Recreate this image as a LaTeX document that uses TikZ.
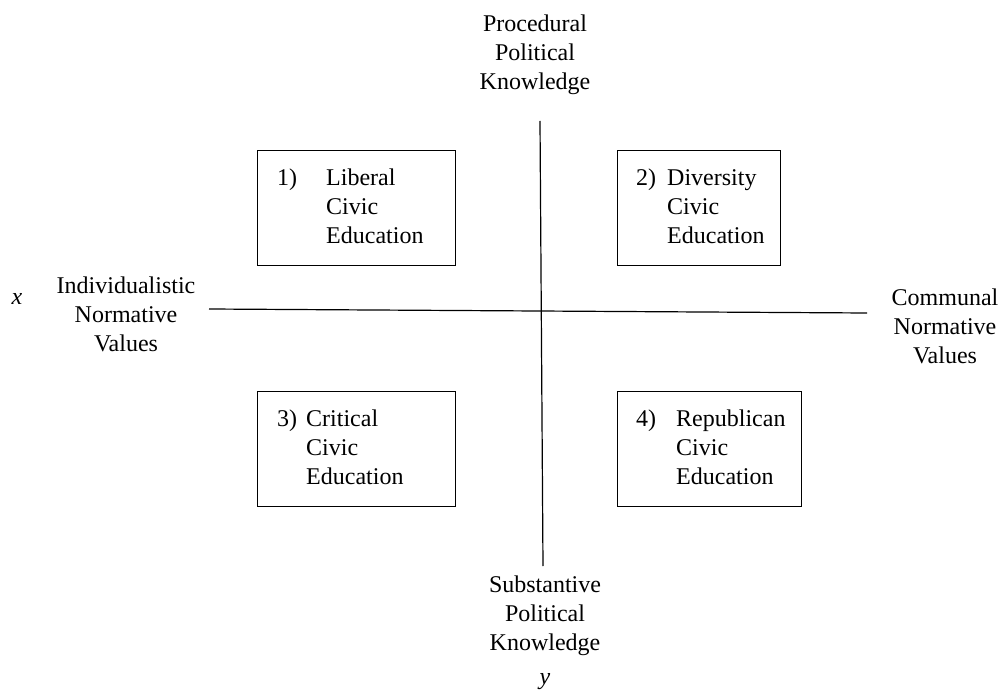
\documentclass[tikz,border=0pt]{standalone}
\usepackage{fontspec}
\setmainfont{Liberation Serif}
\begin{document}
\begin{tikzpicture}[x=1pt,y=-1pt,
  lbl/.style={font=\fontsize{24}{29}\selectfont, align=center, inner sep=0pt, anchor=north},
  var/.style={font=\fontsize{24}{29}\selectfont\itshape, inner sep=0pt, anchor=base},
  quad/.style={draw, line width=1.2pt, anchor=north west, inner sep=0pt, minimum height=115pt},
  axis/.style={line width=1.2pt},
  qtext/.style={font=\fontsize{24}{29}\selectfont, inner sep=0pt, anchor=north west}]
\useasboundingbox (0,0) rectangle (1002,695);
% axes
\coordinate (vtop) at (540,121);
\coordinate (vbot) at (543,566);
\coordinate (hl) at (209,309);
\coordinate (hr) at (867,313);
\draw[axis] (vtop) -- (vbot);
\draw[axis] (hl) -- (hr);
% axis labels
\node[lbl] (proc) at (535,15) {Procedural\\Political\\Knowledge};
\node[lbl] (subs) at (545,575.6) {Substantive\\Political\\Knowledge};
\node[lbl] (indiv) at (126,277) {Individualistic\\Normative\\Values};
\node[lbl] (comm) at (945,288.6) {Communal\\Normative\\Values};
\node[var] (xl) at (17,305) {x};
\node[var] (yl) at (545,684) {y};
% quadrant boxes
\node[quad, minimum width=198pt] (b1) at (257,150) {};
\node[quad, minimum width=163pt] (b2) at (617,150) {};
\node[quad, minimum width=198pt] (b3) at (257,391) {};
\node[quad, minimum width=184pt] (b4) at (617,391) {};
\node[qtext] (t1) at ([xshift=20pt,yshift=-15pt]b1.north west)
  {\begin{tabular}{@{}p{49pt}@{}l@{}}1) & Liberal\\ & Civic\\ & Education\end{tabular}};
\node[qtext] (t2) at ([xshift=19pt,yshift=-15pt]b2.north west)
  {\begin{tabular}{@{}p{31pt}@{}l@{}}2) & Diversity\\ & Civic\\ & Education\end{tabular}};
\node[qtext] (t3) at ([xshift=20pt,yshift=-15pt]b3.north west)
  {\begin{tabular}{@{}p{29pt}@{}l@{}}3) & Critical\\ & Civic\\ & Education\end{tabular}};
\node[qtext] (t4) at ([xshift=19pt,yshift=-15pt]b4.north west)
  {\begin{tabular}{@{}p{40pt}@{}l@{}}4) & Republican\\ & Civic\\ & Education\end{tabular}};
\end{tikzpicture}
\end{document}
